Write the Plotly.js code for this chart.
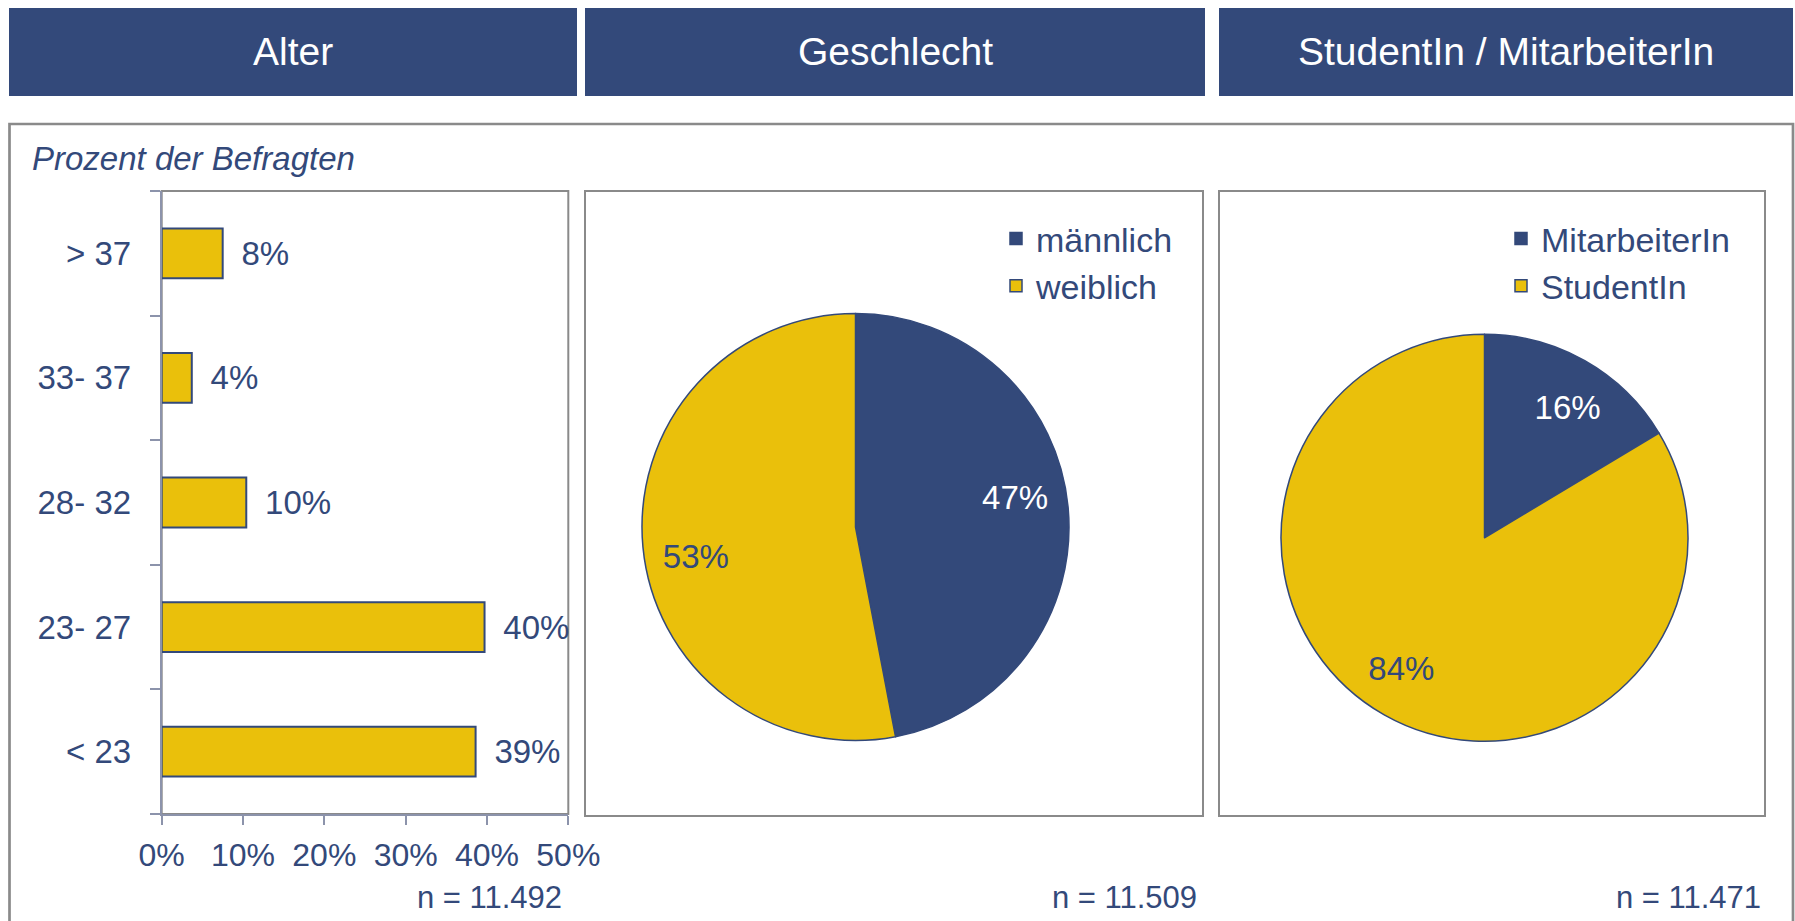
<!DOCTYPE html>
<html>
<head>
<meta charset="utf-8">
<script src="https://cdn.plot.ly/plotly-3.0.1.min.js"></script>
<style>
  html, body { margin: 0; padding: 0; background: #ffffff; }
  #chart { width: 1795px; height: 921px; }
</style>
</head>
<body>
<div id="chart"></div>
<script>
// ---------- data ----------
const headerTitles = ['Alter', 'Geschlecht', 'StudentIn / MitarbeiterIn'];
const ageCategories = ['< 23', '23- 27', '28- 32', '33- 37', '> 37'];
const ageValues = [38.6, 39.7, 10.4, 3.7, 7.5];
const xTickValues = [0, 10, 20, 30, 40, 50];
const xTickLabels = ['0%', '10%', '20%', '30%', '40%', '50%'];
const genderLabels = ['männlich', 'weiblich'];
const genderValues = [47, 53];
const roleLabels = ['MitarbeiterIn', 'StudentIn'];
const roleValues = [16.4, 83.6];
const sampleSizes = ['n = 11.492', 'n = 11.509', 'n = 11.471'];
const yAxisNote = 'Prozent der Befragten';

// ---------- style ----------
const W = 1795, H = 921;
const BLUE = '#33497A';
const YELLOW = '#EAC00B';
const GRAY = '#8A8A8A';
const AXIS = '#8C93AB';
const FONT = '"Liberation Sans", Arial, Helvetica, sans-serif';
const px = v => v / W;
const py = v => 1 - v / H;

const shapes = [];
const annotations = [];

// header bars
const headerBoxes = [[9, 577], [585, 1205], [1219, 1793]];
headerBoxes.forEach((b, i) => {
  shapes.push({type: 'rect', xref: 'paper', yref: 'paper', layer: 'below',
    x0: px(b[0]), x1: px(b[1]), y0: py(96), y1: py(8),
    fillcolor: BLUE, line: {width: 0}});
  annotations.push({xref: 'paper', yref: 'paper', x: px((b[0] + b[1]) / 2), y: py(51),
    xanchor: 'center', yanchor: 'middle', showarrow: false, text: headerTitles[i],
    font: {family: FONT, size: 39, color: '#FFFFFF'}});
});

// outer frame
shapes.push({type: 'rect', xref: 'paper', yref: 'paper', layer: 'below',
  x0: px(9.5), x1: px(1793), y0: py(940), y1: py(124),
  line: {color: GRAY, width: 2.7}, fillcolor: 'rgba(0,0,0,0)'});

// bar plot frame (top/right grey)
shapes.push({type: 'rect', xref: 'paper', yref: 'paper', layer: 'below',
  x0: px(161.7), x1: px(568.3), y0: py(814), y1: py(191),
  line: {color: GRAY, width: 2}, fillcolor: 'rgba(0,0,0,0)'});

// pie frames
[[585, 1203], [1219, 1765]].forEach(b => {
  shapes.push({type: 'rect', xref: 'paper', yref: 'paper', layer: 'below',
    x0: px(b[0]), x1: px(b[1]), y0: py(816), y1: py(191),
    line: {color: GRAY, width: 2}, fillcolor: 'rgba(0,0,0,0)'});
});

// note text
annotations.push({xref: 'paper', yref: 'paper', x: px(30), y: py(159),
  xanchor: 'left', yanchor: 'middle', showarrow: false, text: yAxisNote,
  font: {family: FONT, size: 33, color: BLUE, style: 'italic'}});

// sample sizes
[564, 1199, 1763].forEach((r, i) => {
  annotations.push({xref: 'paper', yref: 'paper', x: px(r), y: py(897),
    xanchor: 'right', yanchor: 'middle', showarrow: false, text: sampleSizes[i],
    font: {family: FONT, size: 31, color: BLUE}});
});

// ---------- traces ----------
const barTrace = {
  type: 'bar', orientation: 'h',
  x: ageValues, y: ageCategories,
  width: 0.4,
  marker: {color: YELLOW, line: {color: BLUE, width: 2}},
  texttemplate: '\u00a0\u2009%{x:.0f}%',
  textposition: 'outside',
  constraintext: 'none',
  cliponaxis: false,
  textfont: {family: FONT, size: 33, color: BLUE},
  hoverinfo: 'x+y',
  showlegend: false,
  xaxis: 'x', yaxis: 'y'
};

const pie1Domain = {x: [px(642), px(1069)], y: [py(740.7), py(313.3)]};
const pie2Domain = {x: [px(1281), px(1688)], y: [py(741.3), py(334.3)]};

function pieTraces(labels, values, domain, legendId, labelTurn) {
  const base = {
    type: 'pie', labels: labels, values: values, domain: domain,
    sort: false, direction: 'clockwise', rotation: 0
  };
  const main = Object.assign({}, base, {
    marker: {colors: [BLUE, YELLOW], line: {color: BLUE, width: 1.5}},
    textinfo: 'none', legend: legendId, showlegend: true,
    hovertemplate: '%{label}: %{percent:.0%}<extra></extra>'
  });
  const labelsRing = Object.assign({}, base, {
    hole: 0.52, rotation: labelTurn,
    marker: {colors: ['rgba(0,0,0,0)', 'rgba(0,0,0,0)'], line: {width: 0}},
    texttemplate: '%{percent:.0%}', textposition: 'inside',
    insidetextorientation: 'horizontal',
    insidetextfont: {family: FONT, size: 33, color: ['#FFFFFF', BLUE]},
    showlegend: false, hoverinfo: 'skip'
  });
  return [main, labelsRing];
}

const data = [barTrace]
  .concat(pieTraces(genderLabels, genderValues, pie1Domain, 'legend', -5))
  .concat(pieTraces(roleLabels, roleValues, pie2Domain, 'legend2', 3));

const legendCommon = {
  font: {family: FONT, size: 34, color: BLUE},
  bgcolor: 'rgba(0,0,0,0)', borderwidth: 0,
  xanchor: 'left', yanchor: 'top', orientation: 'v',
  traceorder: 'normal'
};

const layout = {
  width: W, height: H, autosize: false,
  margin: {l: 0, r: 0, t: 0, b: 0, pad: 0},
  paper_bgcolor: '#FFFFFF', plot_bgcolor: 'rgba(0,0,0,0)',
  font: {family: FONT, color: BLUE},
  xaxis: {
    domain: [px(161.7), px(568.3)], range: [0, 50],
    tickmode: 'array', tickvals: xTickValues, ticktext: xTickLabels,
    ticks: 'outside', ticklen: 9, tickwidth: 2, tickcolor: AXIS,
    showline: true, linecolor: AXIS, linewidth: 2,
    showgrid: false, zeroline: false, fixedrange: true,
    tickfont: {family: FONT, size: 32, color: BLUE},
    ticklabelstandoff: 3
  },
  yaxis: {
    domain: [py(814), py(191)], type: 'category',
    categoryorder: 'array', categoryarray: ageCategories,
    tickson: 'boundaries', ticks: 'outside', ticklen: 10, tickwidth: 2, tickcolor: AXIS,
    showline: true, linecolor: AXIS, linewidth: 2,
    showgrid: false, zeroline: false, fixedrange: true,
    tickfont: {family: FONT, size: 33, color: BLUE},
    ticklabelstandoff: 22
  },
  legend: Object.assign({}, legendCommon, {x: px(996), y: py(210)}),
  legend2: Object.assign({}, legendCommon, {x: px(1501), y: py(210)}),
  shapes: shapes,
  annotations: annotations,
  bargap: 0.6
};

Plotly.newPlot('chart', data, layout, {displayModeBar: false});
</script>
</body>
</html>
